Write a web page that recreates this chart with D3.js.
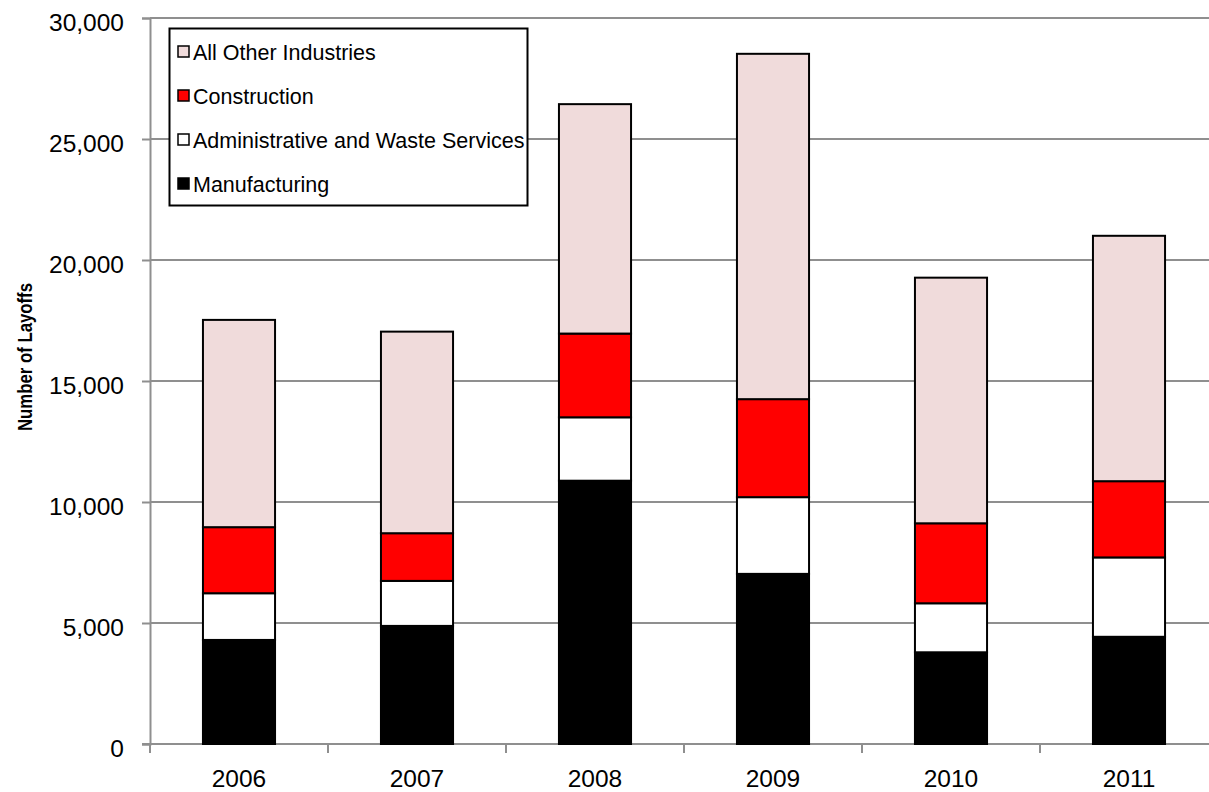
<!DOCTYPE html>
<html><head><meta charset="utf-8">
<script src="https://cdn.jsdelivr.net/npm/d3@7"></script>
<style>body{margin:0;background:#fff}svg{display:block}text{font-family:"Liberation Sans",Arial,sans-serif}</style>
</head><body>
<script>
const years = ["2006","2007","2008","2009","2010","2011"];
const manufacturing = [4300, 4880, 10880, 7030, 3790, 4430];
const administrative = [1930, 1860, 2620, 3170, 2025, 3280];
const construction = [2730, 1970, 3460, 4050, 3305, 3150];
const allOther = [8565, 8330, 9480, 14270, 10150, 10140];
const seriesNames = ["Manufacturing","Administrative and Waste Services","Construction","All Other Industries"];
const seriesColors = ["#000000","#ffffff","#ff0000","#f0dbdb"];
const yTicks = [0,5000,10000,15000,20000,25000,30000];

const W=1209,H=792;
const svg=d3.select("body").append("svg").attr("width",W).attr("height",H);
const x=d3.scaleBand().domain(years).range([150,1218]).paddingInner(0.595).paddingOuter(0.2975);
const y=d3.scaleLinear().domain([0,30000]).range([744,18]);

// gridlines
svg.append("g").selectAll("line").data(yTicks.slice(1)).join("line")
  .attr("x1",150).attr("x2",1218).attr("y1",d=>y(d)).attr("y2",d=>y(d))
  .attr("stroke","#8f8f8f").attr("stroke-width",2);

// y axis
const yAxis=d3.axisLeft(y).tickValues(yTicks).tickSize(8).tickPadding(18).tickFormat(d3.format(","));
const gy=svg.append("g").attr("transform","translate(150,0)").call(yAxis);
gy.select(".domain").attr("stroke","#8f8f8f").attr("stroke-width",2);
gy.selectAll(".tick line").attr("stroke","#8f8f8f").attr("stroke-width",2);
gy.selectAll(".tick text").attr("font-size",24.5).attr("fill","#000").attr("dy","0.7em").attr("y",-4.5);

// x axis
const xb=d3.scaleLinear().domain([0,6]).range([150,1218]);
const gx=svg.append("g").attr("transform","translate(0,744)");
gx.append("line").attr("x1",142).attr("x2",1218).attr("stroke","#8f8f8f").attr("stroke-width",2);
gx.selectAll("line.t").data(d3.range(0,7)).join("line").attr("class","t")
  .attr("x1",d=>xb(d)).attr("x2",d=>xb(d)).attr("y1",0).attr("y2",9)
  .attr("stroke","#8f8f8f").attr("stroke-width",2);
gx.selectAll("text").data(years).join("text")
  .attr("x",d=>x(d)+x.bandwidth()/2).attr("y",43).attr("text-anchor","middle")
  .attr("font-size",24.5).text(d=>d);

// stacked bars
const table=years.map((yr,i)=>({year:yr,Manufacturing:manufacturing[i],"Administrative and Waste Services":administrative[i],Construction:construction[i],"All Other Industries":allOther[i]}));
const stack=d3.stack().keys(seriesNames)(table);
svg.append("g").selectAll("g").data(stack).join("g")
  .attr("fill",(d,i)=>seriesColors[i])
  .selectAll("rect").data(d=>d).join("rect")
  .attr("x",d=>x(d.data.year)).attr("width",x.bandwidth())
  .attr("y",d=>y(d[1])).attr("height",d=>y(d[0])-y(d[1]))
  .attr("stroke","#000").attr("stroke-width",2);

// y title
svg.append("text").attr("transform","translate(32,357) rotate(-90)")
  .attr("text-anchor","middle").attr("font-size",20).attr("font-weight","bold")
  .attr("textLength",148).attr("lengthAdjust","spacingAndGlyphs").text("Number of Layoffs");

// legend
const lg=svg.append("g");
lg.append("rect").attr("x",169.5).attr("y",28.5).attr("width",358).attr("height",177)
  .attr("fill","#fff").attr("stroke","#000").attr("stroke-width",2);
const legendOrder=[3,2,1,0];
legendOrder.forEach((si,k)=>{
  const cy=52+k*44;
  lg.append("rect").attr("x",178).attr("y",cy-6).attr("width",11).attr("height",11)
    .attr("fill",seriesColors[si]).attr("stroke","#000").attr("stroke-width",1.5);
  lg.append("text").attr("x",193).attr("y",cy+8).attr("font-size",21.5).text(seriesNames[si]);
});
</script>
</body></html>
